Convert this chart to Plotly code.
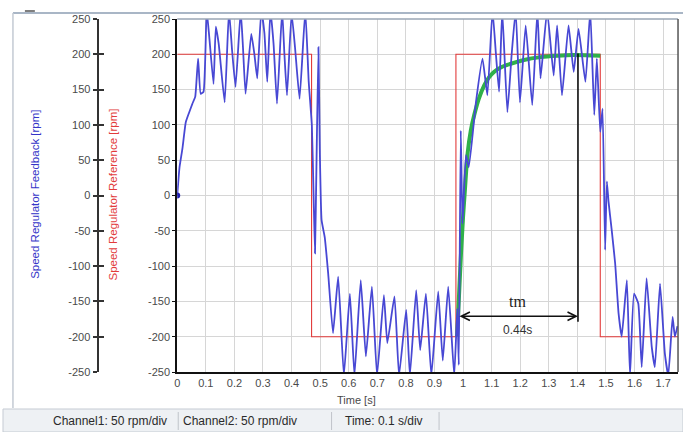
import plotly.graph_objects as go

# ---- data -------------------------------------------------------------
# Speed regulator reference (square wave), rpm
ref_t = [0.0, 0.47, 0.47, 0.975, 0.975, 1.48, 1.48, 1.752]
ref_v = [200, 200, -200, -200, 200, 200, -200, -200]

# Speed regulator feedback, rpm (peaks beyond +/-250 run off the scale)
fb_t = [0.000, 0.008, 0.018, 0.030, 0.042, 0.053, 0.063, 0.073, 0.082, 0.092,
        0.103, 0.112, 0.127, 0.135, 0.145, 0.166, 0.181, 0.192, 0.204, 0.222,
        0.230, 0.239, 0.259, 0.270, 0.280, 0.294, 0.305, 0.315, 0.326, 0.337,
        0.349, 0.367, 0.375, 0.384, 0.400, 0.412, 0.428, 0.448, 0.460, 0.471,
        0.477, 0.482, 0.487, 0.494, 0.499, 0.505, 0.516, 0.528, 0.545,
        0.563, 0.583, 0.604, 0.620, 0.642, 0.660, 0.681, 0.699, 0.723, 0.735,
        0.760, 0.776, 0.801, 0.814, 0.836, 0.850, 0.870, 0.889, 0.913, 0.929,
        0.948, 0.969,
        0.980, 0.985, 0.992, 0.998, 1.010, 1.020, 1.045, 1.068, 1.085, 1.103,
        1.115, 1.126, 1.137, 1.155, 1.170, 1.184, 1.199, 1.219, 1.242, 1.260,
        1.271, 1.294, 1.317, 1.329, 1.346, 1.369, 1.387, 1.404, 1.428, 1.445,
        1.459, 1.468, 1.480, 1.488, 1.497, 1.503, 1.509, 1.520, 1.532, 1.544,
        1.555, 1.573, 1.584, 1.598, 1.613, 1.625, 1.642, 1.660, 1.671, 1.689,
        1.706, 1.718, 1.733, 1.741, 1.750]
fb_v = [0, 40, 66, 104, 118, 130, 140, 194, 144, 147,
        262, 225, 158, 239, 215, 132, 262, 205, 154, 262,
        210, 144, 229, 200, 166, 262, 230, 161, 262, 215,
        130, 262, 200, 142, 258, 210, 137, 262, 161, 99,
        0, -82, 40, 210, 60, -35, -59, -110, -195,
        -115, -255, -139, -255, -120, -228, -129, -255, -141, -209,
        -143, -255, -162, -255, -134, -219, -139, -255, -136, -234,
        -129, -255,
        -160, -240, 92, -40, 57, 40, 132, 194, 142, 262,
        200, 147, 262, 118, 200, 262, 132, 241, 128, 262,
        166, 262, 170, 241, 142, 241, 175, 236, 161, 262,
        114, 194, 90, 123, -77, 20, -9, -49, -96, -167,
        -200, -120, -255, -139, -153, -243, -117, -214, -243, -125,
        -224, -255, -172, -200, -185]

# First-order step response traced over the feedback, rpm
fit_t = [0.979, 0.986, 0.993, 1.000, 1.006, 1.016, 1.027, 1.039, 1.055, 1.074,
         1.090, 1.108, 1.130, 1.155, 1.213, 1.271, 1.330, 1.387, 1.480]
fit_v = [-200, -140, -80, -30, 5, 60, 92, 114, 137, 156,
         167, 175, 181, 185, 192, 196, 198, 199, 198]

# Rise-time marker
tm_start = 0.982
tm_end = 1.402
tm_level = -171
tm_top = 201
tm_label = "tm"
tm_value = "0.44s"

x_ticks = [round(i * 0.1, 1) for i in range(18)]
x_tick_text = ["0", "0.1", "0.2", "0.3", "0.4", "0.5", "0.6", "0.7", "0.8", "0.9",
               "1", "1.1", "1.2", "1.3", "1.4", "1.5", "1.6", "1.7"]
y_ticks = [250, 200, 150, 100, 50, 0, -50, -100, -150, -200, -250]
y_tick_text = ["250", "200", "150", "100", "50", "0",
               "-50", "-100", "-150", "-200", "-250"]

status_fields = ["Channel1: 50 rpm/div", "Channel2: 50 rpm/div", "Time: 0.1 s/div"]

# ---- geometry helpers (pixel -> paper) ---------------------------------
W, H = 683, 432
T, B = 19, 60
PLOT_BOTTOM = H - B


def px(x):
    return x / W


def py(y):
    return (PLOT_BOTTOM - y) / (PLOT_BOTTOM - T)


BLUE = "#4848d4"
RED = "#e23b3b"
GREEN = "#2fb04a"
SANS = "Liberation Sans, Arial, sans-serif"
TICK_FONT = dict(family=SANS, size=11, color="#4a4a4a")


def paper_text(x, y, text, **kw):
    d = dict(x=px(x), y=py(y), xref="paper", yref="paper", text=text,
             showarrow=False, xanchor="center", yanchor="middle")
    d.update(kw)
    return d


fig = go.Figure()

fig.add_trace(go.Scatter(x=ref_t, y=ref_v, mode="lines", yaxis="y",
                         line=dict(color=RED, width=1.1), showlegend=False,
                         hoverinfo="skip"))
fig.add_trace(go.Scatter(x=fb_t, y=fb_v, mode="lines", yaxis="y2",
                         line=dict(color=BLUE, width=1.8, shape="spline", smoothing=0.4),
                         showlegend=False))
fig.add_trace(go.Scatter(x=fb_t[:1], y=fb_v[:1], mode="markers", yaxis="y2",
                         marker=dict(color="#2020b0", size=6), showlegend=False))
fig.add_trace(go.Scatter(x=fit_t, y=fit_v, mode="lines", yaxis="y",
                         line=dict(color=GREEN, width=4, shape="spline"),
                         showlegend=False))
fig.add_trace(go.Scatter(x=[tm_end, tm_end], y=[tm_top, tm_level - 8], mode="lines",
                         yaxis="y", line=dict(color="black", width=1.5),
                         showlegend=False))
# empty trace so the inner tick layer of the outer axis is drawn
fig.add_trace(go.Scatter(x=[None], y=[None], yaxis="y3", showlegend=False))

annotations = [
    # double-headed arrow for the rise time
    dict(x=tm_end, y=tm_level, ax=tm_start, ay=tm_level, xref="x", yref="y",
         axref="x", ayref="y", showarrow=True, arrowhead=5, startarrowhead=5,
         arrowside="end+start", arrowsize=1.3, startarrowsize=1.3,
         arrowwidth=1.3, arrowcolor="#111111", text=""),
    dict(x=(tm_start + tm_end) / 2, y=tm_level, xref="x", yref="y", text=tm_label,
         showarrow=False, yshift=15, xanchor="center", yanchor="middle",
         font=dict(family="Liberation Serif, Times New Roman, serif", size=16,
                   color="#222222")),
    dict(x=(tm_start + tm_end) / 2, y=tm_level, xref="x", yref="y", text=tm_value,
         showarrow=False, yshift=-14, xanchor="center", yanchor="middle",
         font=dict(family=SANS, size=12, color="#333333")),
    # axis titles
    paper_text(32, 194, "Speed Regulator Feedback [rpm]", textangle=-90,
               font=dict(family=SANS, size=11.5, color="#3535c8")),
    paper_text(110, 195, "Speed Regulator Reference [rpm]", textangle=-90,
               font=dict(family=SANS, size=11.5, color=RED)),
    paper_text(355, 400, "Time [s]", font=TICK_FONT),
]

status_x = [107, 238, 383]
for label, cx in zip(status_fields, status_x):
    annotations.append(paper_text(cx, 421, label,
                                  font=dict(family=SANS, size=12, color="#2a2a2a")))

shapes = [
    # window frame
    dict(type="line", xref="paper", yref="paper", x0=px(10), x1=px(683),
         y0=py(13), y1=py(13), line=dict(color="#a9b6c6", width=2)),
    dict(type="line", xref="paper", yref="paper", x0=px(10), x1=px(10),
         y0=py(13), y1=py(408), line=dict(color="#c3cad3", width=1.5)),
    dict(type="line", xref="paper", yref="paper", x0=px(22), x1=px(32),
         y0=py(11), y1=py(11), line=dict(color="#555555", width=1.5)),
    # status bar
    dict(type="rect", xref="paper", yref="paper", x0=px(0), x1=px(683),
         y0=py(409), y1=py(432), fillcolor="#eef1f4",
         line=dict(color="#c5cbd3", width=1), layer="below"),
    dict(type="line", xref="paper", yref="paper", x0=px(176), x1=px(176),
         y0=py(412), y1=py(430), line=dict(color="#c0c4ca", width=1)),
    dict(type="line", xref="paper", yref="paper", x0=px(330), x1=px(330),
         y0=py(412), y1=py(430), line=dict(color="#c0c4ca", width=1)),
    dict(type="line", xref="paper", yref="paper", x0=px(438), x1=px(438),
         y0=py(412), y1=py(430), line=dict(color="#c0c4ca", width=1)),
    # plot frame: top and right edges
    dict(type="line", xref="x domain", yref="y domain", x0=0, x1=1, y0=1, y1=1,
         line=dict(color="#9aa6b4", width=1.5)),
    dict(type="line", xref="x domain", yref="y domain", x0=1, x1=1, y0=0, y1=1,
         line=dict(color="#555555", width=1.5)),
]

fig.update_layout(
    width=W, height=H,
    margin=dict(l=0, r=0, t=T, b=B, pad=0),
    paper_bgcolor="white", plot_bgcolor="white",
    xaxis=dict(domain=[px(175), px(678)], range=[0, 1.752],
               tickmode="array", tickvals=x_ticks, ticktext=x_tick_text,
               showgrid=True, gridcolor="#d6d6d6", gridwidth=1, zeroline=False,
               showline=True, linecolor="#111111", linewidth=2, ticks="",
               tickfont=TICK_FONT),
    yaxis=dict(range=[-250, 250], tickmode="array", tickvals=y_ticks,
               ticktext=y_tick_text,
               showgrid=True, gridcolor="#d6d6d6", gridwidth=1, zeroline=False,
               showline=True, linecolor="#111111", linewidth=2,
               ticks="outside", ticklen=3, tickcolor="#111111",
               tickfont=TICK_FONT),
    yaxis2=dict(range=[-250, 250], overlaying="y", anchor="free", position=px(95),
                side="left", tickmode="array", tickvals=y_ticks,
                ticktext=y_tick_text,
                showgrid=False, zeroline=False,
                showline=True, linecolor="#333333", linewidth=2,
                ticks="outside", ticklen=4, tickcolor="#333333", tickwidth=1.5,
                tickfont=TICK_FONT),
    yaxis3=dict(range=[-250, 250], overlaying="y", anchor="free", position=px(95),
                side="left", tickmode="array", tickvals=y_ticks,
                showgrid=False, zeroline=False, showline=False,
                showticklabels=False,
                ticks="inside", ticklen=5, tickcolor="#333333", tickwidth=1.5),
    annotations=annotations,
    shapes=shapes,
)

fig.write_html("out.html")
